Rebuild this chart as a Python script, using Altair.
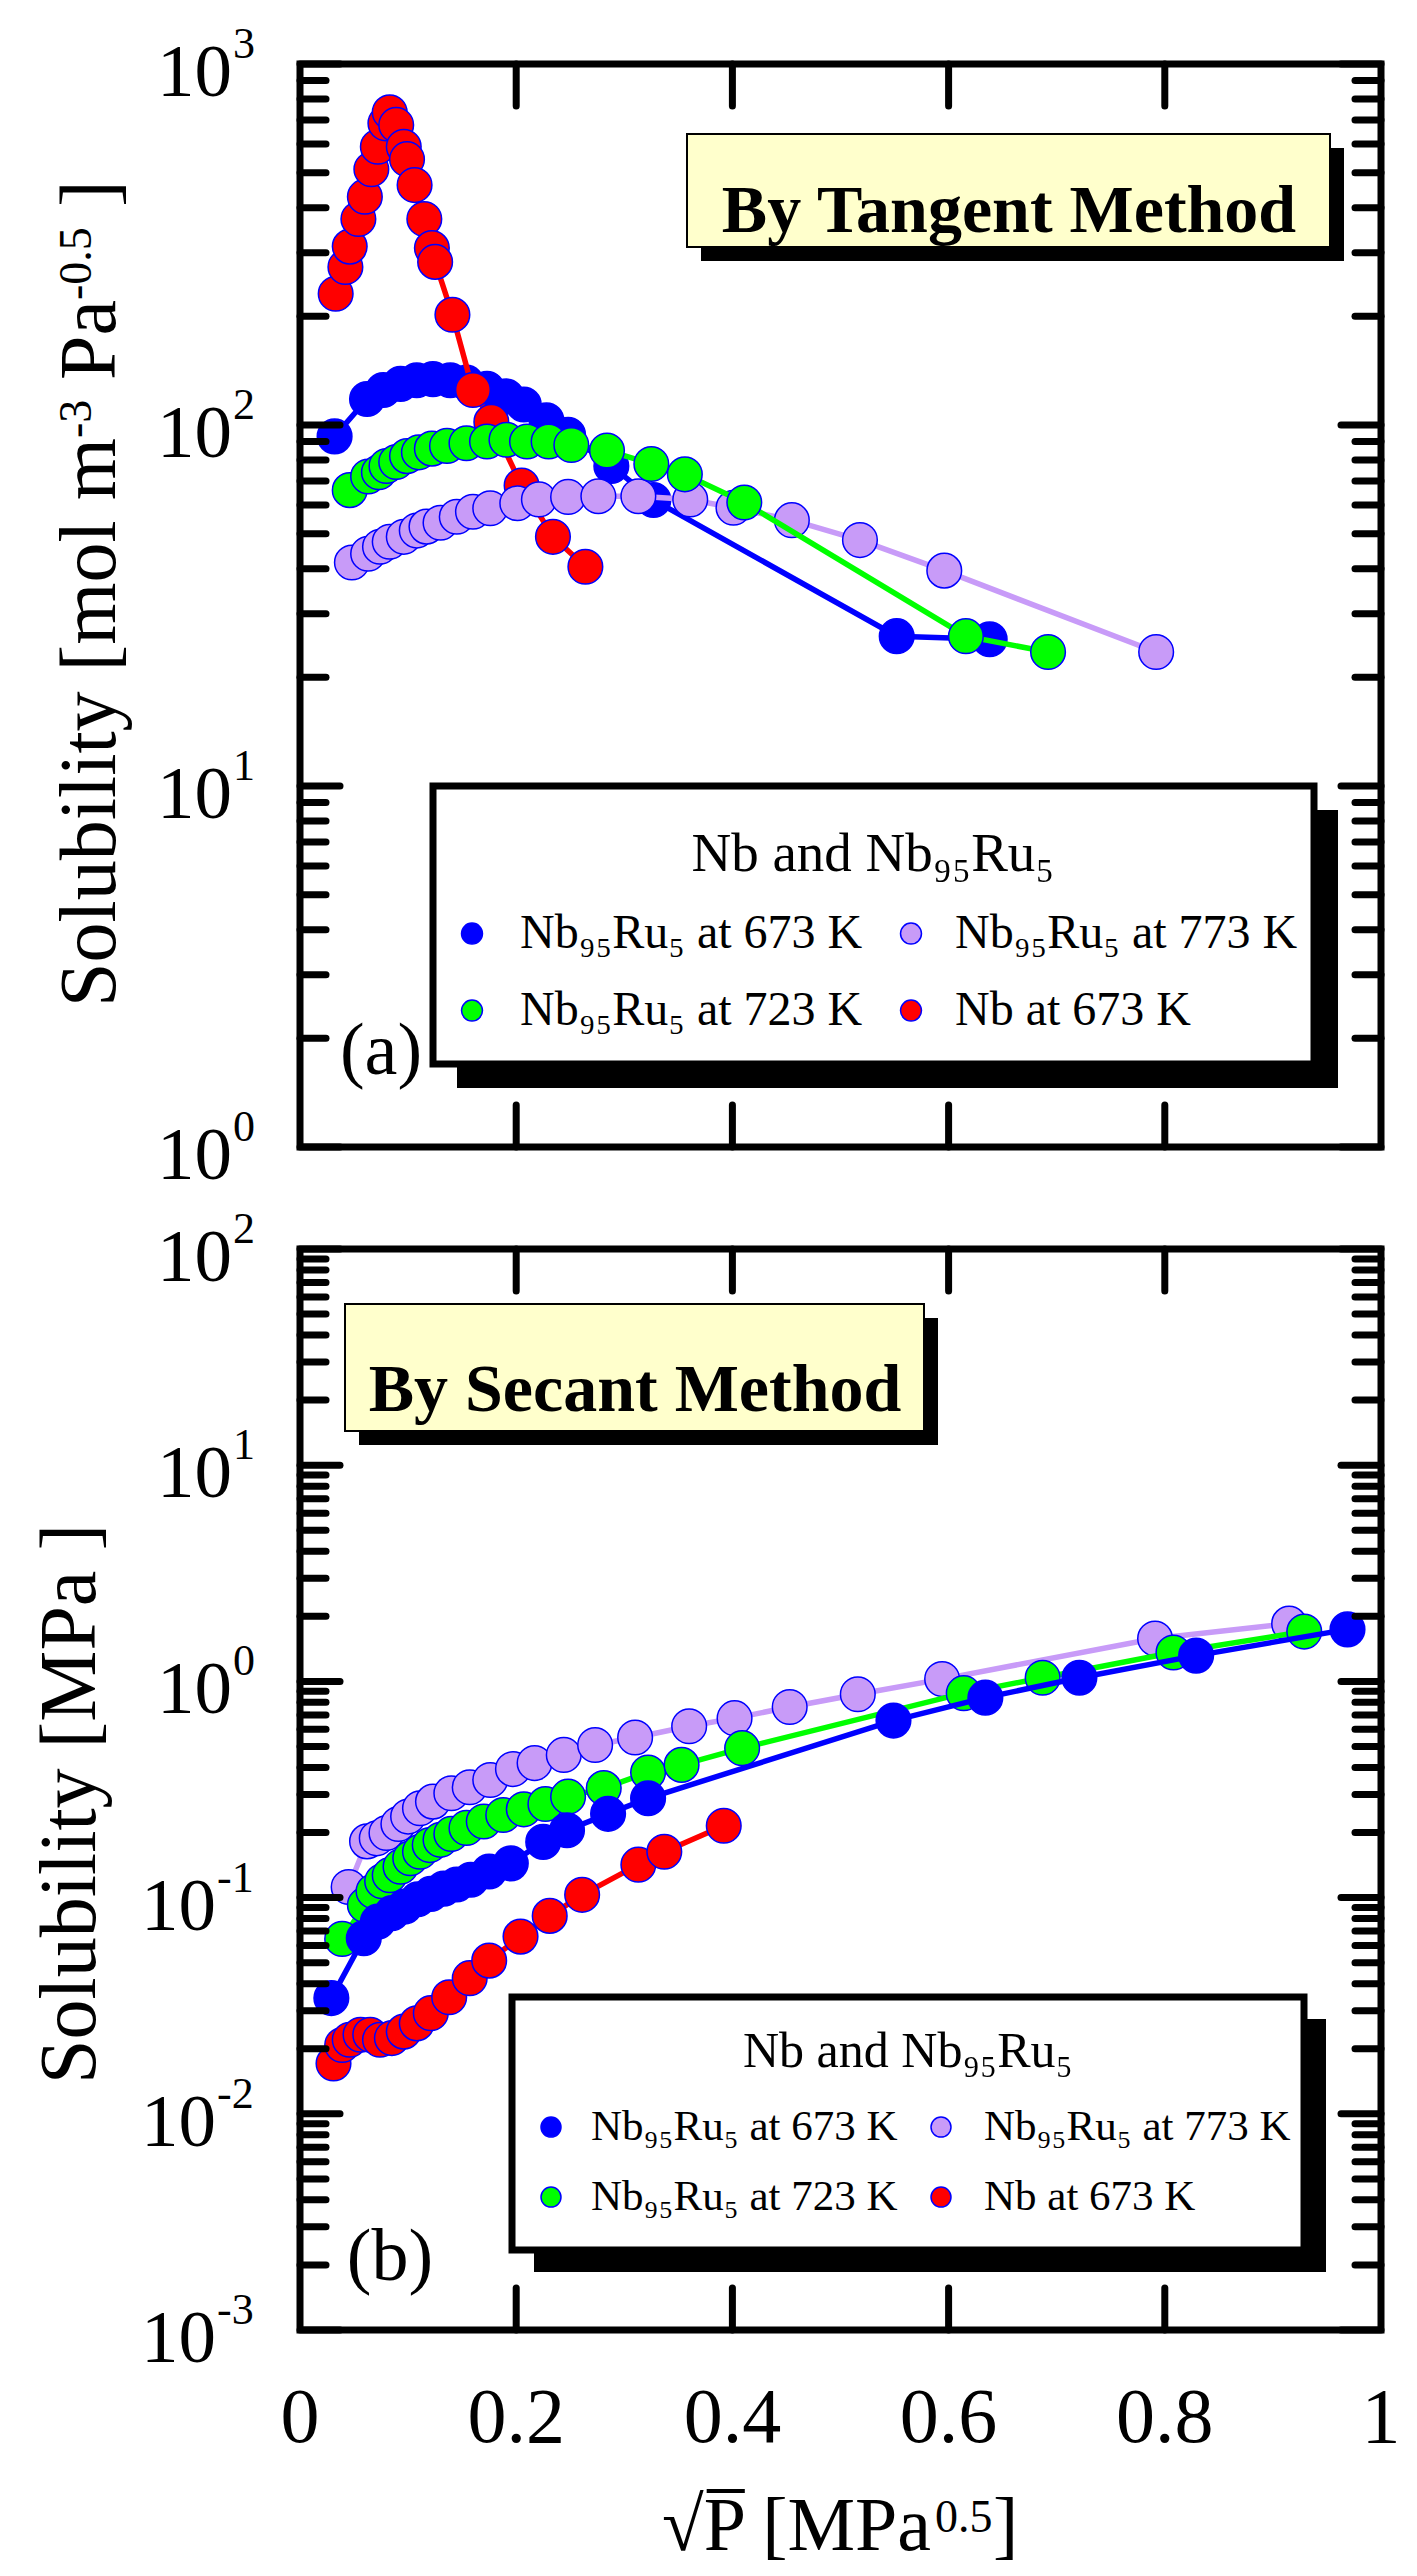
import altair as alt
import pandas as pd

# ---------------- panel (a): By Tangent Method ----------------
a_blue_x = [0.032, 0.062, 0.077, 0.093, 0.108, 0.123, 0.139, 0.154, 0.173, 0.191, 0.207, 0.228, 0.248, 0.288, 0.327, 0.552, 0.638]
a_blue_y = [93, 118, 125, 130, 133, 134, 133, 131, 126, 120, 114, 103, 94, 77, 62, 26, 25.5]

a_green_x = [0.046, 0.063, 0.073, 0.080, 0.089, 0.099, 0.110, 0.122, 0.136, 0.154, 0.173, 0.191, 0.210, 0.230, 0.251, 0.284, 0.325, 0.356, 0.411, 0.616, 0.692]
a_green_y = [66, 72, 74, 77, 79, 82, 84, 86, 87.5, 89, 90, 91, 90, 90, 88, 85, 78, 73, 61, 26, 23.5]

a_lav_x = [0.048, 0.063, 0.074, 0.083, 0.096, 0.108, 0.117, 0.130, 0.145, 0.160, 0.176, 0.201, 0.221, 0.248, 0.276, 0.313, 0.361, 0.401, 0.455, 0.518, 0.596, 0.792]
a_lav_y = [41.6, 44, 46, 47.5, 49, 51, 52.3, 53.6, 55.7, 57.5, 58.8, 60.7, 62.2, 63.2, 63.5, 63.5, 62.2, 59, 54.5, 48, 39.5, 23.5]

a_nb_x = [0.033, 0.042, 0.046, 0.054, 0.060, 0.066, 0.072, 0.079, 0.083, 0.089, 0.096, 0.099, 0.106, 0.115, 0.122, 0.125, 0.141, 0.160, 0.177, 0.205, 0.234, 0.264]
a_nb_y = [231, 274, 312, 372, 429, 511, 590, 685, 735, 678, 590, 545, 462, 372, 309, 283, 202, 125, 102, 68, 49, 40.5]

# ---------------- panel (b): By Secant Method ----------------
b_blue_x = [0.029, 0.059, 0.072, 0.085, 0.097, 0.109, 0.121, 0.133, 0.145, 0.158, 0.175, 0.195, 0.225, 0.247, 0.285, 0.322, 0.549, 0.634, 0.721, 0.829, 0.969]
b_blue_y = [0.0343, 0.0649, 0.0774, 0.0847, 0.0909, 0.0983, 0.104, 0.110, 0.115, 0.121, 0.132, 0.144, 0.181, 0.205, 0.244, 0.288, 0.659, 0.841, 1.04, 1.316, 1.74]

b_green_x = [0.039, 0.060, 0.068, 0.076, 0.083, 0.093, 0.102, 0.111, 0.120, 0.130, 0.140, 0.154, 0.170, 0.188, 0.207, 0.227, 0.248, 0.281, 0.322, 0.353, 0.409, 0.614, 0.687, 0.808, 0.929]
b_green_y = [0.0644, 0.0925, 0.107, 0.119, 0.127, 0.139, 0.152, 0.163, 0.175, 0.185, 0.197, 0.210, 0.225, 0.241, 0.256, 0.271, 0.293, 0.321, 0.379, 0.411, 0.491, 0.882, 1.04, 1.36, 1.70]

b_lav_x = [0.045, 0.062, 0.071, 0.080, 0.091, 0.100, 0.111, 0.123, 0.140, 0.157, 0.176, 0.197, 0.217, 0.244, 0.273, 0.310, 0.360, 0.402, 0.453, 0.516, 0.594, 0.791, 0.915]
b_lav_y = [0.112, 0.182, 0.188, 0.199, 0.219, 0.237, 0.259, 0.278, 0.304, 0.324, 0.350, 0.393, 0.419, 0.457, 0.508, 0.550, 0.620, 0.676, 0.761, 0.872, 1.025, 1.58, 1.85]

b_nb_x = [0.031, 0.039, 0.046, 0.056, 0.065, 0.074, 0.085, 0.096, 0.108, 0.121, 0.138, 0.157, 0.175, 0.204, 0.231, 0.261, 0.313, 0.337, 0.392]
b_nb_y = [0.0171, 0.0208, 0.0220, 0.0232, 0.0232, 0.0220, 0.0224, 0.0240, 0.0262, 0.0292, 0.0346, 0.0424, 0.0511, 0.066, 0.0823, 0.103, 0.142, 0.163, 0.215]

# ---------------- axes / labels ----------------
x_tick_values = [0.2, 0.4, 0.6, 0.8]
x_label_values = [0, 0.2, 0.4, 0.6, 0.8, 1]
x_label_texts = ["0", "0.2", "0.4", "0.6", "0.8", "1"]
a_major = [1, 10, 100, 1000]
a_exps = ["0", "1", "2", "3"]
b_major_pos = [1, 10, 100]
b_exps_pos = ["0", "1", "2"]
b_major_neg = [0.001, 0.01, 0.1]
b_exps_neg = ["-3", "-2", "-1"]

legend_names = ["Nb\u2089\u2085Ru\u2085 at 673 K", "Nb\u2089\u2085Ru\u2085 at 773 K",
                "Nb\u2089\u2085Ru\u2085 at 723 K", "Nb at 673 K"]
legend_title = "Nb and Nb\u2089\u2085Ru\u2085"

# ---------------- styling / geometry ----------------
W = 1081
H = 2266
A_BOT = 1083
B_TOP = 1185
BLUE = "#0000ff"
GREEN = "#00ff00"
LAV = "#c89bf8"
RED = "#ff0000"
SERIF = "Liberation Serif"

XS = alt.Scale(domain=[0, 1], range=[0, W], nice=False, zero=False)
YA = alt.Scale(type="log", domain=[1, 1000], range=[A_BOT, 0], nice=False)
YB = alt.Scale(type="log", domain=[0.001, 100], range=[H, B_TOP], nice=False)

one = pd.DataFrame({"k": [0]})


def series(xs, ys, color, ys_scale):
    df = pd.DataFrame({"x": xs, "y": ys})
    base = alt.Chart(df).encode(
        x=alt.X("x:Q", scale=XS, axis=None),
        y=alt.Y("y:Q", scale=ys_scale, axis=None),
    )
    line = base.mark_line(color=color, strokeWidth=5.5)
    pts = base.mark_circle(size=1200, fill=color, stroke=BLUE, strokeWidth=1.5, opacity=1)
    return [line, pts]


def rect(x, x2, y, y2, **kw):
    return alt.Chart(one).mark_rect(**kw).encode(
        x=alt.value(x), x2=alt.value(x2), y=alt.value(y), y2=alt.value(y2))


def text(t, x, y, **kw):
    style = dict(font=SERIF, color="black")
    style.update(kw)
    return alt.Chart(one).mark_text(text=t, **style).encode(x=alt.value(x), y=alt.value(y))


def dot(x, y, color, size):
    return alt.Chart(one).mark_circle(size=size, fill=color, stroke=BLUE, strokeWidth=1.5, opacity=1).encode(
        x=alt.value(x), y=alt.value(y))


def frame(lo, hi, ys_scale):
    df = pd.DataFrame({"x0": [0.0], "x1": [1.0], "y0": [lo], "y1": [hi]})
    return alt.Chart(df).mark_rect(fill="transparent", stroke="black", strokeWidth=7).encode(
        x=alt.X("x0:Q", scale=XS, axis=None), x2="x1:Q",
        y=alt.Y("y0:Q", scale=ys_scale, axis=None), y2="y1:Q")


def yticks(vals, ys_scale, length):
    df = pd.DataFrame({"v": vals})
    out = []
    for x0, x1 in [(0, length), (W - length, W)]:
        out.append(alt.Chart(df).mark_rule(color="black", strokeWidth=7, strokeCap="round").encode(
            x=alt.value(x0), x2=alt.value(x1), y=alt.Y("v:Q", scale=ys_scale, axis=None)))
    return out


def xticks(ybot, ytop):
    df = pd.DataFrame({"v": x_tick_values})
    out = []
    for y0, y1 in [(ybot, ybot - 42), (ytop, ytop + 42)]:
        out.append(alt.Chart(df).mark_rule(color="black", strokeWidth=7, strokeCap="round").encode(
            x=alt.X("v:Q", scale=XS, axis=None), y=alt.value(y0), y2=alt.value(y1)))
    return out


def ylabels(vals, exps, ys_scale, ten_right, exp_left):
    df = pd.DataFrame({"v": vals, "e": exps})
    ten = alt.Chart(df).mark_text(text="10", font=SERIF, fontSize=75, align="right",
                                  baseline="alphabetic", dy=32, color="black").encode(
        x=alt.value(ten_right), y=alt.Y("v:Q", scale=ys_scale, axis=None))
    ex = alt.Chart(df).mark_text(font=SERIF, fontSize=44, align="left",
                                 baseline="alphabetic", dy=-6, color="black").encode(
        x=alt.value(exp_left), y=alt.Y("v:Q", scale=ys_scale, axis=None), text="e:N")
    return [ten, ex]


def minor(decades):
    return [m * d for d in decades for m in range(2, 10)]


def legend(x0, x1, y0, y1, sh, title_x, title_y, title_size, sym_x, txt_x, rows_y, size, sym_size):
    cols = [BLUE, LAV, GREEN, RED]
    out = [rect(x0 + sh, x1 + sh, y0 + sh, y1 + sh, fill="black"),
           rect(x0, x1, y0, y1, fill="white", stroke="black", strokeWidth=7),
           text(legend_title, title_x, title_y, fontSize=title_size, align="center", baseline="alphabetic")]
    for i, name in enumerate(legend_names):
        r, c = divmod(i, 2)
        out.append(dot(sym_x[c], rows_y[r] - size * 0.3, cols[i], sym_size))
        out.append(text(name, txt_x[c], rows_y[r], fontSize=size, align="left", baseline="alphabetic"))
    return out


def vtext(t, x, y, size):
    # rotated text reading upwards, anchored at its start (bottom end)
    return text(t, x, y, fontSize=size, angle=270, align="left", baseline="alphabetic")


layers = []

# ----- panel (a) -----
layers += [rect(401, 1044, 84, 197, fill="black"),
           rect(387, 1030, 70, 183, fill="#ffffcc", stroke="black", strokeWidth=2),
           text("By Tangent Method", 709, 148, fontSize=68, fontWeight="bold", align="center")]
layers += series(a_blue_x, a_blue_y, BLUE, YA)
layers += series(a_nb_x, a_nb_y, RED, YA)
layers += series(a_lav_x, a_lav_y, LAV, YA)
layers += series(a_green_x, a_green_y, GREEN, YA)
layers += legend(133, 1014, 722, 1000, 24, 573, 807, 55, [172, 611], [220, 655], [884, 961], 48, 440)
layers.append(frame(1, 1000, YA))
layers += yticks(minor([1, 10, 100]), YA, 26)
layers += yticks(a_major, YA, 40)
layers += xticks(A_BOT, 0)
layers += ylabels(a_major, a_exps, YA, -68, -67)
layers.append(text("(a)", 81, 988, fontSize=74, align="center"))
# y title of (a) with real superscripts
layers += [vtext("Solubility [mol m", -185, 943, 80),
           vtext("-3", -209, 374, 46),
           vtext("Pa", -185, 316, 80),
           vtext("-0.5", -209, 236, 46),
           vtext("]", -185, 143, 80)]

# ----- panel (b) -----
layers += [rect(59, 638, 1254, 1381, fill="black"),
           rect(45, 624, 1240, 1367, fill="#ffffcc", stroke="black", strokeWidth=2),
           text("By Secant Method", 335, 1327, fontSize=68, fontWeight="bold", align="center")]
layers += series(b_lav_x, b_lav_y, LAV, YB)
layers += series(b_green_x, b_green_y, GREEN, YB)
layers += series(b_blue_x, b_blue_y, BLUE, YB)
layers += series(b_nb_x, b_nb_y, RED, YB)
layers += legend(212, 1004, 1933, 2186, 22, 608, 2003, 50, [251, 641], [291, 684], [2076, 2146], 43, 400)
layers.append(frame(0.001, 100, YB))
layers += yticks(minor([0.001, 0.01, 0.1, 1, 10]), YB, 26)
layers += yticks(b_major_pos + b_major_neg, YB, 40)
layers += xticks(H, B_TOP)
layers += ylabels(b_major_pos, b_exps_pos, YB, -68, -67)
layers += ylabels(b_major_neg, b_exps_neg, YB, -84, -83)
layers.append(text("(b)", 90, 2194, fontSize=74, align="center"))
layers.append(text("Solubility [MPa ]", -205, 1740, fontSize=80, angle=270, align="center", baseline="alphabetic"))

# x tick labels and title
xl = pd.DataFrame({"v": x_label_values, "t": x_label_texts})
layers.append(alt.Chart(xl).mark_text(font=SERIF, fontSize=78, align="center", baseline="alphabetic", color="black").encode(
    x=alt.X("v:Q", scale=XS, axis=None), y=alt.value(2378), text="t:N"))
layers += [text("\u221aP\u0305 [MPa", 362, 2486, fontSize=76, align="left", baseline="alphabetic"),
           text("0.5", 635, 2468, fontSize=46, align="left", baseline="alphabetic"),
           text("]", 693, 2486, fontSize=76, align="left", baseline="alphabetic")]

chart = alt.layer(*layers).resolve_scale(y="independent").properties(
    width=W, height=H,
    autosize=alt.AutoSizeParams(type="none"),
    padding={"left": 292, "top": 56, "right": 28, "bottom": 238},
).configure_view(strokeWidth=0)

chart.save("out.html", embed_options={"renderer": "svg", "actions": False})
